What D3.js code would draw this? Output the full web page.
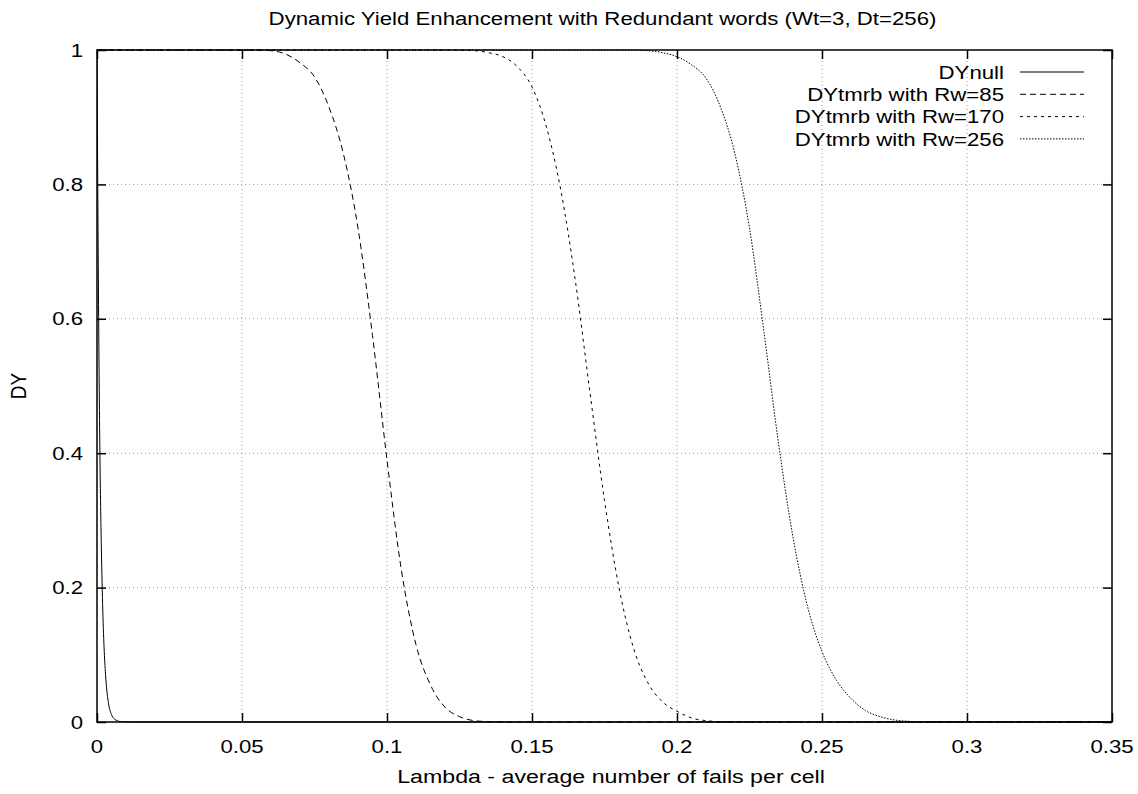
<!DOCTYPE html>
<html>
<head>
<meta charset="utf-8">
<script src="https://cdn.jsdelivr.net/npm/d3@7"></script>
<style>
  html, body { margin: 0; padding: 0; background: #fff; }
  svg text { font-family: "Liberation Sans", Arial, Helvetica, sans-serif; fill: #000; }
</style>
</head>
<body>
<svg id="chart" width="1138" height="794"></svg>
<script>
// Yield curves: lambda (average fails per cell) vs dynamic yield
const dyNullLambda = [0, 0.0005, 0.001, 0.0015, 0.002, 0.0025, 0.003, 0.004, 0.005, 0.006, 0.008, 0.01, 0.012, 0.35];
const dyNullValue  = [1, 0.64, 0.40, 0.26, 0.165, 0.105, 0.067, 0.027, 0.011, 0.0045, 0.0007, 0.0001, 0, 0];

const rw85Lambda = [0, 0.055, 0.06, 0.065, 0.07, 0.075, 0.08, 0.085, 0.09, 0.095, 0.1, 0.105, 0.11, 0.115, 0.12, 0.125, 0.13, 0.135, 0.14, 0.35];
const rw85Value  = [1, 1, 0.999, 0.994, 0.981, 0.96, 0.915, 0.845, 0.735, 0.575, 0.39, 0.225, 0.115, 0.055, 0.022, 0.008, 0.002, 0.0005, 0, 0];

const rw170Lambda = [0, 0.12, 0.13, 0.135, 0.14, 0.145, 0.15, 0.155, 0.16, 0.165, 0.17, 0.175, 0.18, 0.185, 0.19, 0.195, 0.2, 0.205, 0.21, 0.215, 0.22, 0.35];
const rw170Value  = [1, 1, 0.999, 0.996, 0.99, 0.975, 0.945, 0.885, 0.79, 0.655, 0.49, 0.33, 0.2, 0.11, 0.058, 0.03, 0.016, 0.006, 0.002, 0.0005, 0, 0];

const rw256Lambda = [0, 0.18, 0.19, 0.195, 0.2, 0.205, 0.21, 0.215, 0.22, 0.225, 0.23, 0.235, 0.24, 0.245, 0.25, 0.255, 0.26, 0.265, 0.27, 0.275, 0.28, 0.285, 0.35];
const rw256Value  = [1, 1, 0.999, 0.996, 0.99, 0.978, 0.958, 0.915, 0.845, 0.735, 0.58, 0.415, 0.275, 0.172, 0.105, 0.062, 0.035, 0.017, 0.008, 0.003, 0.001, 0, 0];

const seriesNames = ["DYnull", "DYtmrb with Rw=85", "DYtmrb with Rw=170", "DYtmrb with Rw=256"];
const xTicks = [0, 0.05, 0.1, 0.15, 0.2, 0.25, 0.3, 0.35];
const yTicks = [0, 0.2, 0.4, 0.6, 0.8, 1];

const titleText = "Dynamic Yield Enhancement with Redundant words (Wt=3, Dt=256)";
const xLabelText = "Lambda - average number of fails per cell";
const yLabelText = "DY";

const svg = d3.select("#chart");
const margin = { left: 97, right: 26, top: 50, bottom: 72 };
const W = 1138, H = 794;
const FS = 19;     // font size
const SX = 1.17;   // horizontal widening of the lettering
const x = d3.scaleLinear().domain([0, 0.35]).range([margin.left, W - margin.right]);
const y = d3.scaleLinear().domain([0, 1]).range([H - margin.bottom, margin.top]);

const series = [
  { name: seriesNames[0], xs: dyNullLambda, ys: dyNullValue, dash: null },
  { name: seriesNames[1], xs: rw85Lambda, ys: rw85Value, dash: "6,4" },
  { name: seriesNames[2], xs: rw170Lambda, ys: rw170Value, dash: "3,4" },
  { name: seriesNames[3], xs: rw256Lambda, ys: rw256Value, dash: "1.5,1.5" }
];

// wide text placed at (px, py)
function wideText(parent, px, py, str, anchor, sx) {
  return parent.append("text")
    .attr("transform", `translate(${px},${py}) scale(${sx || SX},1)`)
    .attr("text-anchor", anchor || "middle")
    .attr("dy", "0.35em")
    .attr("font-size", FS)
    .text(str);
}

// grid
const grid = svg.append("g");
xTicks.slice(1, -1).forEach(t => {
  grid.append("line").attr("x1", x(t)).attr("x2", x(t)).attr("y1", y(0)).attr("y2", y(1))
    .attr("stroke", "#999").attr("stroke-width", 1).attr("stroke-dasharray", "1,3");
});
yTicks.slice(1, -1).forEach(t => {
  grid.append("line").attr("x1", x(0)).attr("x2", x(0.35)).attr("y1", y(t)).attr("y2", y(t))
    .attr("stroke", "#999").attr("stroke-width", 1).attr("stroke-dasharray", "1,3");
});

// clip for curves
svg.append("clipPath").attr("id", "plotclip").append("rect")
  .attr("x", x(0)).attr("y", y(1) - 1).attr("width", x(0.35) - x(0)).attr("height", y(0) - y(1) + 2);

const line = d3.line()
  .x(d => x(d[0])).y(d => y(d[1]))
  .curve(d3.curveMonotoneX);

const curves = svg.append("g").attr("clip-path", "url(#plotclip)");
series.forEach(s => {
  const pts = s.xs.map((v, i) => [v, s.ys[i]]);
  curves.append("path").datum(pts).attr("d", line)
    .attr("fill", "none").attr("stroke", "#000").attr("stroke-width", 1)
    .attr("stroke-dasharray", s.dash);
});

// axes (ticks inward, mirrored on all four sides)
const tickLen = 9;
const fmt = d3.format("~g");
const axB = d3.axisBottom(x).tickValues(xTicks).tickSize(-tickLen).tickFormat("");
const axT = d3.axisTop(x).tickValues(xTicks).tickSize(-tickLen).tickFormat("");
const axL = d3.axisLeft(y).tickValues(yTicks).tickSize(-tickLen).tickFormat("");
const axR = d3.axisRight(y).tickValues(yTicks).tickSize(-tickLen).tickFormat("");

function styleAxis(g) {
  g.select(".domain").remove();
  g.selectAll(".tick line").attr("stroke", "#000").attr("stroke-width", 1.5);
  g.selectAll(".tick text").remove();
}
svg.append("g").attr("transform", `translate(0,${y(0)})`).call(axB).call(styleAxis);
svg.append("g").attr("transform", `translate(0,${y(1)})`).call(axT).call(styleAxis);
svg.append("g").attr("transform", `translate(${x(0)},0)`).call(axL).call(styleAxis);
svg.append("g").attr("transform", `translate(${x(0.35)},0)`).call(axR).call(styleAxis);

// tick labels
const tl = svg.append("g");
xTicks.forEach(t => wideText(tl, x(t), 746, fmt(t), "middle"));
yTicks.forEach(t => wideText(tl, 83, y(t), fmt(t), "end"));

// frame
svg.append("rect").attr("x", x(0)).attr("y", y(1)).attr("width", x(0.35) - x(0)).attr("height", y(0) - y(1))
  .attr("fill", "none").attr("stroke", "#000").attr("stroke-width", 1.5);

// titles
wideText(svg, (x(0) + x(0.35)) / 2 - 2, 18, titleText, "middle");
wideText(svg, 611, 776, xLabelText, "middle", 1.22);
svg.append("text")
  .attr("transform", `translate(18,${(y(0) + y(1)) / 2}) rotate(-90) scale(1,${SX})`)
  .attr("text-anchor", "middle").attr("dy", "0.35em")
  .attr("font-size", FS).text(yLabelText);

// legend
const legend = svg.append("g");
series.forEach((s, i) => {
  const cy = 72 + i * 22.3;
  wideText(legend, 1004, cy, s.name, "end");
  legend.append("line").attr("x1", 1020).attr("x2", 1084).attr("y1", cy).attr("y2", cy)
    .attr("stroke", "#000").attr("stroke-width", 1).attr("stroke-dasharray", s.dash);
});
</script>
</body>
</html>
